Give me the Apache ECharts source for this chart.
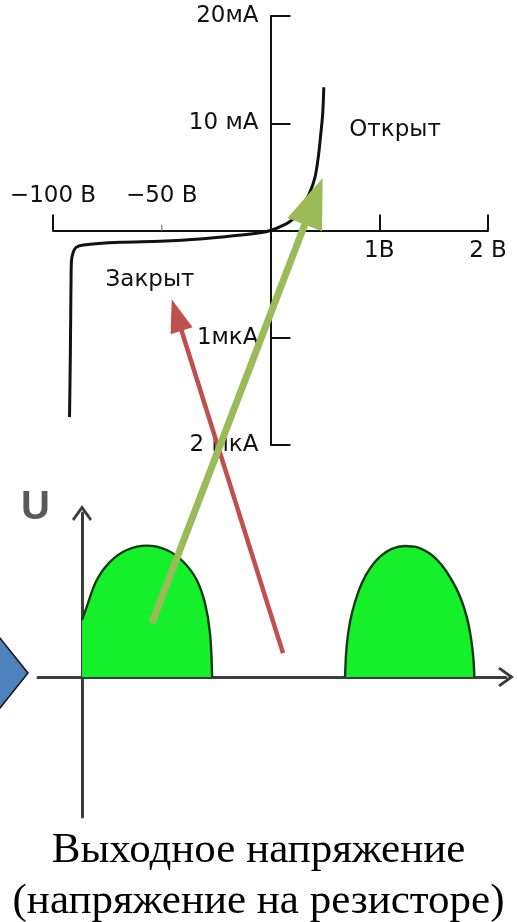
<!DOCTYPE html>
<html>
<head>
<meta charset="utf-8">
<title>ВАХ диода и выходное напряжение</title>
<style>
  html, body { margin: 0; padding: 0; background: #fff; }
  #chart { width: 517px; height: 922px; }
</style>
</head>
<body>
<div id="chart"></div>
<script src="https://cdn.jsdelivr.net/npm/echarts@6.0.0/dist/echarts.min.js"></script>
<script>
// ВАХ диода: обратная ветвь (В, мкА) и прямая ветвь (В, мА)
const reverseV = [-92.4, -92.0, -91.7, -91.5, -90.8, -89.5, -86.0, -69.2, -50.8, -32.4, -17.1, -4.8, 0]
const reverseI = [-1.74, -1.11, -0.46, -0.28, -0.21, -0.16, -0.135, -0.11, -0.10, -0.08, -0.05, -0.02, 0]
const forwardV = [0.12, 0.21, 0.30, 0.36, 0.41, 0.44, 0.46, 0.48, 0.49]
const forwardI = [0.5, 1.1, 2.4, 3.5, 5.0, 6.9, 8.75, 10.9, 13.35]

// масштаб рисунка разный по обе стороны от нуля
const voltsPerUnitRev = 50 // 1 деление = 50 В
const voltsPerUnitFwd = 1 // 1 деление = 1 В
const mAPerUnit = 10 // 1 деление = 10 мА
const uAPerUnit = 1 // 1 деление = 1 мкА

// деления осей (в делениях)
const xTickValues = [-2, -1, 1, 2]
const xTickLabels = ['−100 В', '−50 В', '1В', '2 В']
const yTickValues = [2, 1, -1, -2]
const yTickLabels = ['20мА', '10 мА', '1мкА', '2 мкА']

// выходное напряжение: время (мс) и U (отн. ед.)
const hump1T = [0, 0.36, 1.12, 2.13, 3.40, 4.92, 6.44, 7.70, 8.72, 9.35, 9.73, 9.89]
const hump1U = [0.43, 0.533, 0.735, 0.873, 0.962, 0.995, 0.962, 0.873, 0.735, 0.558, 0.331, 0]
const hump2T = [20.0, 20.13, 20.38, 20.76, 21.27, 21.90, 22.66, 23.55, 24.56, 25.57, 26.59, 27.35, 28.11, 28.75, 29.25, 29.58, 29.76, 29.83]
const hump2U = [0, 0.242, 0.419, 0.570, 0.710, 0.823, 0.911, 0.970, 0.992, 0.980, 0.924, 0.848, 0.735, 0.608, 0.457, 0.293, 0.142, 0]

// стрелки-пояснения (в делениях верхнего графика)
const redArrow = [[0.115, -3.94], [-0.863, -0.788]]
const greenArrow = [[-1.09, -3.66], [0.397, 0.272]]
const notes = [
  { name: 'Открыт', value: [1.145, 0.936] },
  { name: 'Закрыт', value: [-1.108, -0.462] }
]

const labelFont = { fontFamily: 'DejaVu Sans', fontSize: 23, color: '#111' }
const triangle = 'path://M50,0 L100,100 L0,100 Z'
const chevron = 'path://M0,0 L10,14 L8,16 L0,5 L-8,16 L-10,14 Z'

const curve = reverseV.map((v, i) => [v / voltsPerUnitRev, reverseI[i] / uAPerUnit])
  .concat(forwardV.map((v, i) => [v / voltsPerUnitFwd, forwardI[i] / mAPerUnit]))

function tickLabel(values, labels) {
  return v => {
    const i = values.findIndex(t => Math.abs(t - v) < 1e-6)
    return i < 0 ? '' : labels[i]
  }
}

const chart = echarts.init(document.getElementById('chart'))

// оси сдвинуты внутрь сетки на нулевые отметки через offset
chart.setOption({
  animation: false,
  backgroundColor: '#fff',
  title: {
    text: 'Выходное напряжение\n(напряжение на резисторе)',
    left: 'center',
    top: 820,
    textStyle: {
      fontFamily: 'Liberation Serif',
      fontSize: 43,
      fontWeight: 'normal',
      color: '#000',
      lineHeight: 51
    }
  },
  grid: [
    { left: 53, top: 16, width: 435, height: 429, outerBoundsMode: 'none' },
    { left: 38, top: 513, width: 468, height: 304, outerBoundsMode: 'none' }
  ],
  xAxis: [{
    gridIndex: 0,
    type: 'value',
    min: -2,
    max: 2,
    position: 'bottom',
    offset: -214.5,
    axisLine: { onZero: false, lineStyle: { color: '#111', width: 2 } },
    axisTick: { inside: true, length: 16, customValues: [-2, 1, 2], lineStyle: { color: '#111', width: 2 } },
    axisLabel: Object.assign({ customValues: [1, 2], margin: 9, formatter: tickLabel(xTickValues, xTickLabels) }, labelFont),
    splitLine: { show: false }
  }, {
    gridIndex: 1,
    type: 'value',
    min: -3.35,
    max: 32.24,
    position: 'bottom',
    offset: -140,
    axisLine: {
      onZero: false,
      symbol: ['none', chevron],
      symbolSize: [22, 16],
      lineStyle: { color: '#3c3c3c', width: 3 }
    },
    axisTick: { show: false },
    axisLabel: { show: false },
    splitLine: { show: false }
  }],
  yAxis: [{
    gridIndex: 0,
    type: 'value',
    min: -2,
    max: 2,
    position: 'left',
    offset: -217.5,
    axisLine: { onZero: false, lineStyle: { color: '#111', width: 2 } },
    axisTick: { inside: true, length: 20, customValues: yTickValues, lineStyle: { color: '#111', width: 2 } },
    axisLabel: Object.assign({ customValues: yTickValues, margin: 12, formatter: tickLabel(yTickValues, yTickLabels) }, labelFont),
    splitLine: { show: false }
  }, {
    gridIndex: 1,
    type: 'value',
    min: -1.06,
    max: 1.242,
    position: 'left',
    offset: -44,
    name: 'U',
    nameLocation: 'end',
    nameGap: 5,
    nameTextStyle: {
      fontFamily: 'Liberation Sans',
      fontWeight: 'bold',
      fontSize: 40,
      color: '#5a5a5a',
      align: 'right',
      verticalAlign: 'middle',
      padding: [0, 32, 0, 0]
    },
    axisLine: {
      onZero: false,
      symbol: ['none', chevron],
      symbolSize: [22, 16],
      lineStyle: { color: '#3c3c3c', width: 3 }
    },
    axisTick: { show: false },
    axisLabel: { show: false },
    splitLine: { show: false }
  }],
  series: [{
    name: 'ВАХ',
    type: 'line',
    xAxisIndex: 0,
    yAxisIndex: 0,
    data: curve,
    smooth: 0.3,
    showSymbol: false,
    lineStyle: { color: '#111', width: 3 }
  }, {
    // подписи −100 В и −50 В над осью
    type: 'scatter',
    xAxisIndex: 0,
    yAxisIndex: 0,
    symbolSize: 0,
    itemStyle: { opacity: 1 },
    data: [{ name: xTickLabels[0], value: [xTickValues[0], 0] }, { name: xTickLabels[1], value: [xTickValues[1], 0] }],
    label: Object.assign({ show: true, position: 'top', distance: 23, formatter: '{b}' }, labelFont),
    silent: true
  }, {
    // короткое деление −50 В
    type: 'scatter',
    xAxisIndex: 0,
    yAxisIndex: 0,
    symbol: 'rect',
    symbolSize: [1.5, 6],
    symbolOffset: [0, -3],
    data: [[xTickValues[1], 0]],
    itemStyle: { color: '#999', opacity: 1 },
    silent: true
  }, {
    type: 'scatter',
    xAxisIndex: 0,
    yAxisIndex: 0,
    symbolSize: 0,
    itemStyle: { opacity: 1 },
    data: notes,
    label: Object.assign({ show: true, position: 'inside', formatter: '{b}' }, labelFont),
    silent: true
  }, {
    name: 'U1',
    type: 'line',
    xAxisIndex: 1,
    yAxisIndex: 1,
    data: hump1T.map((t, i) => [t, hump1U[i]]),
    smooth: 0.4,
    showSymbol: false,
    lineStyle: { color: '#163a16', width: 2.4 },
    areaStyle: { color: '#16f02a', opacity: 1 }
  }, {
    name: 'U2',
    type: 'line',
    xAxisIndex: 1,
    yAxisIndex: 1,
    data: hump2T.map((t, i) => [t, hump2U[i]]),
    smooth: 0.4,
    showSymbol: false,
    lineStyle: { color: '#163a16', width: 2.4 },
    areaStyle: { color: '#16f02a', opacity: 1 }
  }, {
    // синяя стрелка слева (край фигуры)
    type: 'scatter',
    xAxisIndex: 1,
    yAxisIndex: 1,
    clip: false,
    symbol: 'diamond',
    symbolSize: [112, 140],
    data: [[-8.37, 0.03]],
    itemStyle: { color: '#4f81bd', borderColor: '#111', borderWidth: 1.5, opacity: 1 },
    silent: true
  }, {
    type: 'lines',
    coordinateSystem: 'cartesian2d',
    xAxisIndex: 0,
    yAxisIndex: 0,
    clip: false,
    z: 10,
    symbol: ['none', triangle],
    data: [
      { coords: redArrow, symbolSize: [1, [23, 33]], lineStyle: { color: '#c0504d', width: 4.5, opacity: 1 } },
      { coords: greenArrow, symbolSize: [1, [37, 50]], lineStyle: { color: '#9bbb59', width: 7, opacity: 1 } }
    ],
    silent: true
  }]
})
</script>
</body>
</html>
